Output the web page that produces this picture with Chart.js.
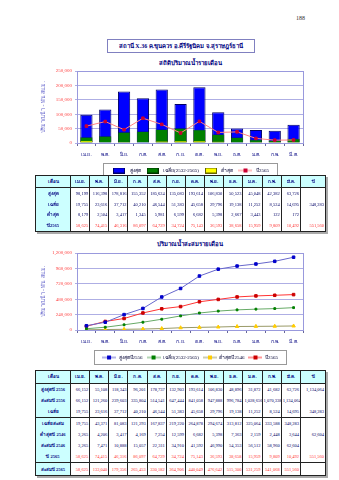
<!DOCTYPE html>
<html>
<head>
<meta charset="utf-8">
<script src="https://cdn.jsdelivr.net/npm/chart.js@4.4.0/dist/chart.umd.min.js"></script>
<style>
  body { margin: 0; width: 339px; height: 480px; background: #fff; position: relative; overflow: hidden; font-family: "Liberation Serif", serif; }
  .abs { position: absolute; }
  #pageNo { left: 296px; top: 15px; font-size: 6px; color: #333; }
  #station { left: 107px; top: 39px; width: 146px; height: 12px; border: 1px solid #8080c0; font-size: 6px; font-weight: bold; color: #000080; text-align: center; line-height: 12px; white-space: nowrap; }
  .ctitle { left: 77px; width: 226px; text-align: center; font-size: 6px; font-weight: bold; color: #000080; white-space: nowrap; }
  table.tbl { position: absolute; border-collapse: collapse; table-layout: fixed; font-size: 4.5px; color: #000066; border: 1px solid #222; box-shadow: 2px 2px 0 #aaa; }
  table.tbl td { border-left: 1px solid #222; padding: 0 1px; text-align: right; white-space: nowrap; overflow: hidden; }
  table.tbl tr.head td { background: #ccffff; text-align: center; font-weight: bold; border-bottom: 1px solid #222; color: #000080; }
  table.tbl td.lab { background: #ccffff; text-align: center; font-weight: bold; color: #000080; }
  table.tbl td.red { color: #ff3333; }
  table.tbl tr.sep td { border-top: 1px solid #222; }
  canvas { position: absolute; }
</style>
</head>
<body>
<div id="pageNo" class="abs">188</div>
<div id="station" class="abs">สถานี X.36 ค.ขุนควร อ.คีรีรัฐนิคม จ.สุราษฎร์ธานี</div>
<div class="abs ctitle" style="top:58px">สถิติปริมาณน้ำรายเดือน</div>
<div style="position:absolute;left:40px;top:64px;width:280px;height:119px"><canvas id="chart1"></canvas></div>
<div class="abs ctitle" style="top:239px">ปริมาณน้ำสะสมรายเดือน</div>
<div style="position:absolute;left:40px;top:246px;width:280px;height:124px"><canvas id="chart2"></canvas></div>
<table class="tbl" id="table1" style="left:35px;top:175px;width:291px;height:57px"></table>
<table class="tbl" id="table2" style="left:35px;top:370px;width:291px;height:106px"></table>

<script>
const months = ['เม.ย.', 'พ.ค.', 'มิ.ย.', 'ก.ค.', 'ส.ค.', 'ก.ย.', 'ต.ค.', 'พ.ย.', 'ธ.ค.', 'ม.ค.', 'ก.พ.', 'มี.ค.'];

// monthly statistics (thousand m3)
const maxFlow = [98199, 116398, 178816, 155352, 185624, 135083, 193614, 106830, 50523, 45048, 42382, 63726];
const avgFlow = [19755, 23616, 37712, 40210, 46544, 51383, 45658, 29796, 19138, 11252, 8524, 14695];
const minFlow = [8179, 2504, 3417, 1345, 5981, 6599, 6682, 5398, 2667, 3443, 122, 172];
const flow2565 = [58625, 74415, 46316, 86097, 64729, 34724, 75143, 36593, 38658, 15959, 9809, 10492];

// year columns
const avgYear = 348283;
const total2565 = 551560;
const total2556 = 1134064;
const total2546 = 62604;

// cumulative table / chart 2
const maxFlow2556 = [66152, 55108, 118343, 96201, 178737, 132903, 193614, 106830, 48896, 31872, 41682, 63726];
const cumMax2556 = [66152, 121260, 239603, 335804, 514541, 647444, 841058, 947888, 996784, 1028656, 1070338, 1134064];
const cumAvg = [19755, 43371, 81083, 121293, 167837, 219220, 264878, 294674, 313812, 325064, 333588, 348283];
const minFlow2546 = [3265, 4206, 3417, 4169, 7254, 12599, 6682, 5398, 7363, 2159, 2448, 3644];
const cumMin2546 = [3265, 7471, 10888, 15057, 22311, 34910, 41592, 46990, 54353, 56512, 58960, 62604];
const cum2565 = [58625, 133040, 179356, 265453, 330182, 364906, 440049, 476642, 515300, 531259, 541068, 551560];

const yTicks1 = [0, 50000, 100000, 150000, 200000, 250000];
const yTicks2 = [0, 240000, 480000, 720000, 960000, 1200000];

const fmt = v => (v === '' || v === undefined) ? '' : v.toLocaleString('en-US');
const thaiFont = '"Liberation Serif", serif';

function boxIcon(fill, stroke) {
    const c = document.createElement('canvas');
    c.width = 12; c.height = 6;
    const g = c.getContext('2d');
    g.fillStyle = fill; g.fillRect(0, 0, 12, 6);
    g.strokeStyle = stroke; g.lineWidth = 1; g.strokeRect(0.5, 0.5, 11, 5);
    return c;
}

function lineIcon(lineColor, pointColor) {
    const c = document.createElement('canvas');
    c.width = 14; c.height = 6;
    const g = c.getContext('2d');
    g.strokeStyle = lineColor; g.lineWidth = 1;
    g.beginPath(); g.moveTo(0, 3); g.lineTo(14, 3); g.stroke();
    g.fillStyle = pointColor; g.fillRect(5, 1, 4, 4);
    return c;
}

// draws a frame around the legend and around the plot area
const framePlugin = {
    id: 'frame',
    afterDraw(chart) {
        const ctx = chart.ctx;
        const a = chart.chartArea;
        ctx.save();
        ctx.strokeStyle = '#9999dd';
        ctx.lineWidth = 1;
        ctx.strokeRect(Math.round(a.left) + 0.5, Math.round(a.top) + 0.5, Math.round(a.right - a.left), Math.round(a.bottom - a.top));
        const boxes = chart.legend.legendHitBoxes;
        if (boxes && boxes.length) {
            const x0 = Math.min(...boxes.map(b => b.left)) - 8;
            const x1 = Math.max(...boxes.map(b => b.left + b.width)) + 8;
            const y0 = Math.min(...boxes.map(b => b.top)) - 5;
            const y1 = Math.max(...boxes.map(b => b.top + b.height)) + 4;
            ctx.strokeStyle = '#999999';
            ctx.strokeRect(Math.round(x0) + 0.5, Math.round(y0) + 0.5, Math.round(x1 - x0), Math.round(y1 - y0));
        }
        ctx.restore();
    }
};

function yScale(ticks, max) {
    return {
        min: 0,
        max: max,
        afterBuildTicks: s => { s.ticks = ticks.map(v => ({ value: v })); },
        afterFit: s => { s.width = 37; },
        ticks: { color: '#ff4040', font: { size: 5, family: thaiFont }, padding: 3, callback: v => fmt(v) },
        grid: { color: '#9999dd', lineWidth: 0.8, tickLength: 2, drawTicks: true },
        border: { color: '#666699' },
        title: { display: true, text: 'ปริมาณน้ำ - พัน ลบ.ม.', color: '#6666cc', font: { size: 5.5, family: thaiFont }, padding: { top: 0, bottom: 2 } }
    };
}

const xScale = {
    offset: true,
    grid: { offset: true, drawOnChartArea: false, tickLength: 3, color: '#666699' },
    border: { color: '#666699' },
    ticks: { color: '#000080', font: { size: 5, family: thaiFont }, padding: 6, maxRotation: 0, autoSkip: false }
};

function legendOptions(icons, iconWidth) {
    return {
        position: 'bottom',
        fullSize: false,
        labels: {
            usePointStyle: true,
            pointStyleWidth: iconWidth,
            boxHeight: 6,
            padding: 4,
            color: '#000033',
            font: { size: 5, family: thaiFont },
            sort: (a, b) => a.datasetIndex - b.datasetIndex,
            generateLabels: chart => Chart.defaults.plugins.legend.labels.generateLabels(chart)
                .map(item => Object.assign(item, { pointStyle: icons[item.datasetIndex] }))
        }
    };
}

// chart 1: monthly statistics
const icons1 = [boxIcon('#0000ff', '#000066'), boxIcon('#008000', '#003300'), boxIcon('#ffff00', '#666600'), lineIcon('#ff8080', '#cc0033')];
new Chart(document.getElementById('chart1'), {
    type: 'bar',
    data: {
        labels: months,
        datasets: [
            { label: 'สูงสุด', data: maxFlow, backgroundColor: '#0000ff', borderColor: '#000066', borderWidth: 1, grouped: false, order: 4, barPercentage: 0.65, categoryPercentage: 1 },
            { label: 'เฉลี่ย(2532-2565)', data: avgFlow, backgroundColor: '#008000', borderColor: '#003300', borderWidth: 0.5, grouped: false, order: 3, barPercentage: 0.65, categoryPercentage: 1 },
            { label: 'ต่ำสุด', data: minFlow, backgroundColor: '#ffff00', borderColor: '#999900', borderWidth: 0.5, grouped: false, order: 2, barPercentage: 0.65, categoryPercentage: 1 },
            { type: 'line', label: 'ปี2565', data: flow2565, borderColor: '#ff8080', borderWidth: 1, backgroundColor: '#cc0033', pointStyle: 'rect', pointRadius: 1.8, pointBorderColor: '#cc0033', tension: 0, order: 1 }
        ]
    },
    options: {
        animation: false,
        responsive: true,
        maintainAspectRatio: false,
        layout: { padding: { top: 7, right: 17, bottom: 0, left: 0 } },
        scales: { x: xScale, y: yScale(yTicks1, 250000) },
        plugins: { legend: legendOptions(icons1, 16), tooltip: { enabled: false } }
    },
    plugins: [framePlugin]
});

// chart 2: cumulative
const icons2 = [lineIcon('#6666cc', '#0000cc'), lineIcon('#66aa66', '#008000'), lineIcon('#999966', '#ffcc00'), lineIcon('#ff3333', '#cc0000')];
new Chart(document.getElementById('chart2'), {
    type: 'line',
    data: {
        labels: months,
        datasets: [
            { label: 'สูงสุดปี2556', data: cumMax2556, borderColor: '#6666cc', borderWidth: 1, pointStyle: 'rect', pointRadius: 1.8, backgroundColor: '#0000cc', pointBorderColor: '#0000cc', tension: 0 },
            { label: 'เฉลี่ย(2532-2565)', data: cumAvg, borderColor: '#66aa66', borderWidth: 1, pointStyle: 'rect', pointRadius: 1.3, backgroundColor: '#008000', pointBorderColor: '#008000', tension: 0 },
            { label: 'ต่ำสุดปี2546', data: cumMin2546, borderColor: '#999966', borderWidth: 1, pointStyle: 'triangle', pointRadius: 2, backgroundColor: '#ffcc00', pointBorderColor: '#ffcc00', tension: 0 },
            { label: 'ปี2565', data: cum2565, borderColor: '#ff3333', borderWidth: 1, pointStyle: 'rect', pointRadius: 1.8, backgroundColor: '#cc0000', pointBorderColor: '#cc0000', tension: 0 }
        ]
    },
    options: {
        animation: false,
        responsive: true,
        maintainAspectRatio: false,
        layout: { padding: { top: 7, right: 17, bottom: 0, left: 0 } },
        scales: { x: xScale, y: yScale(yTicks2, 1200000) },
        plugins: { legend: legendOptions(icons2, 14), tooltip: { enabled: false } }
    },
    plugins: [framePlugin]
});

// tables
function buildTable(id, rows) {
    let html = '<colgroup><col style="width:35px">' + months.map(() => '<col>').join('') + '<col style="width:25px"></colgroup>';
    html += '<tr class="head"><td>เดือน</td>' + months.map(m => '<td>' + m + '</td>').join('') + '<td>ปี</td></tr>';
    rows.forEach(r => {
        const cls = r.red ? ' class="red"' : '';
        html += '<tr' + (r.sep ? ' class="sep"' : '') + '><td class="lab">' + r.label + '</td>' +
            r.values.map(v => '<td' + cls + '>' + fmt(v) + '</td>').join('') +
            '<td' + cls + '>' + fmt(r.year) + '</td></tr>';
    });
    document.getElementById(id).innerHTML = html;
}

buildTable('table1', [
    { label: 'สูงสุด', values: maxFlow, year: '' },
    { label: 'เฉลี่ย', values: avgFlow, year: avgYear },
    { label: 'ต่ำสุด', values: minFlow, year: '' },
    { label: 'ปี2565', values: flow2565, year: total2565, red: true }
]);

buildTable('table2', [
    { label: 'สูงสุดปี 2556', values: maxFlow2556, year: total2556 },
    { label: 'สะสมปี 2556', values: cumMax2556, year: '' },
    { label: 'เฉลี่ย', values: avgFlow, year: avgYear },
    { label: 'เฉลี่ยสะสม', values: cumAvg, year: '', sep: true },
    { label: 'ต่ำสุดปี 2546', values: minFlow2546, year: total2546 },
    { label: 'สะสมปี 2546', values: cumMin2546, year: '' },
    { label: 'ปี 2565', values: flow2565, year: total2565, red: true },
    { label: 'สะสมปี 2565', values: cum2565, year: '', red: true, sep: true }
]);
</script>
</body>
</html>
